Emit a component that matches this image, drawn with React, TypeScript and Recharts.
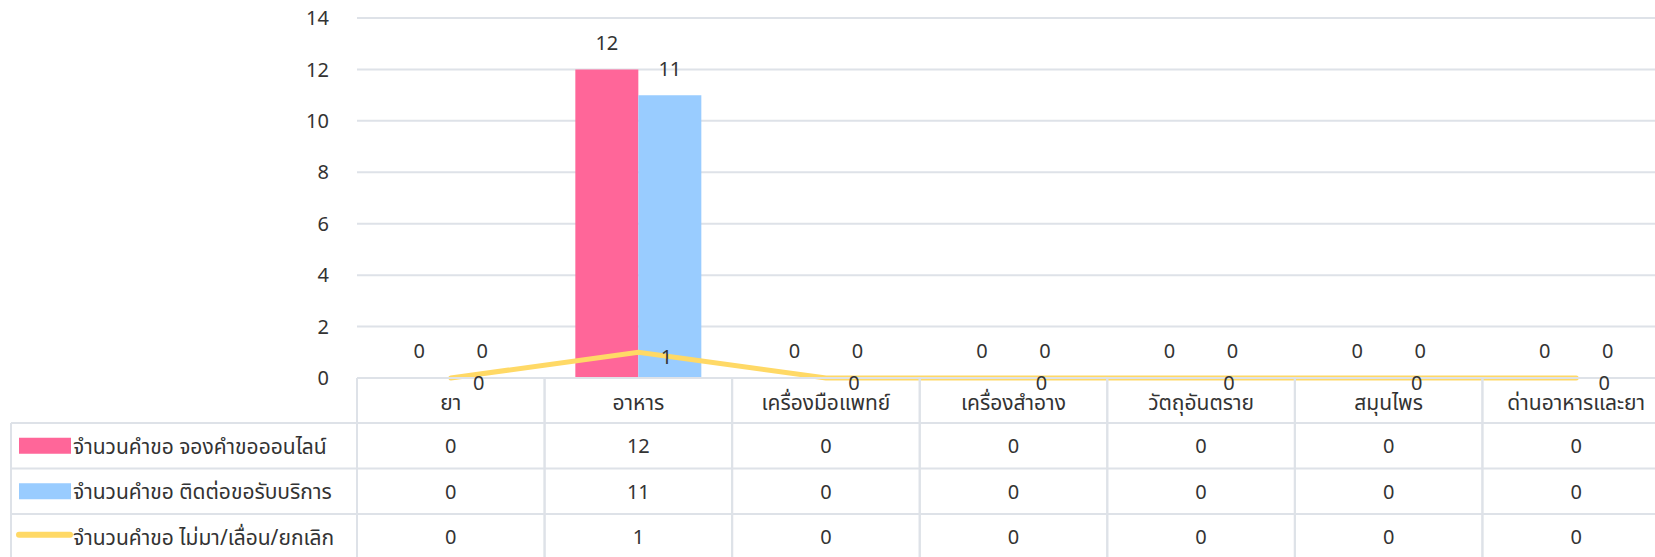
import React from 'react';
import { ComposedChart, Bar, Line, XAxis, YAxis, CartesianGrid, LabelList, Rectangle } from 'recharts';

const categories = ['ยา', 'อาหาร', 'เครื่องมือแพทย์', 'เครื่องสำอาง', 'วัตถุอันตราย', 'สมุนไพร', 'ด่านอาหารและยา'];
const onlineBooking = [0, 12, 0, 0, 0, 0, 0];
const walkIn = [0, 11, 0, 0, 0, 0, 0];
const cancelled = [0, 1, 0, 0, 0, 0, 0];
const seriesNames = [
  'จำนวนคำขอ จองคำขอออนไลน์',
  'จำนวนคำขอ ติดต่อขอรับบริการ',
  'จำนวนคำขอ ไม่มา/เลื่อน/ยกเลิก',
];
const yTicks = [0, 2, 4, 6, 8, 10, 12, 14];

const COLORS = ['#FF6699', '#99CCFF', '#FFD966'];
const GRID = '#DEE2E8';
const TEXT = '#333333';
const FONT = "'Noto Sans', 'Noto Sans Thai', Tahoma, sans-serif";
const FS = 20;
const FS_THAI = 21;

const rows = [onlineBooking, walkIn, cancelled];

const data = categories.map((c, i) => ({
  name: c,
  online: onlineBooking[i],
  walkin: walkIn[i],
  cancel: cancelled[i],
}));

// table layout (relative to the axis line)
const HEADER_H = 45;
const ROW_H = 45.5;
const LEGEND_LEFT = 11;

const TableTick = (props: any) => {
  const { x, y, payload } = props;
  const half = payload.offset || 0;
  const idx = payload.index;
  const left = x - half;
  const right = x + half;
  const lines: any[] = [];
  const bottom = y + HEADER_H + ROW_H * 3 + 5;
  lines.push(<line key="vl" x1={left} x2={left} y1={y} y2={bottom} stroke={GRID} strokeWidth={2} />);
  lines.push(<line key="vr" x1={right} x2={right} y1={y} y2={bottom} stroke={GRID} strokeWidth={2} />);
  for (let r = 0; r < 3; r++) {
    const yy = y + HEADER_H + ROW_H * r;
    lines.push(<line key={'h' + r} x1={left} x2={right} y1={yy} y2={yy} stroke={GRID} strokeWidth={2} />);
  }
  const texts: any[] = [];
  texts.push(
    <text key="hd" x={x} y={y + HEADER_H / 2 + 1} textAnchor="middle" dominantBaseline="central" fill={TEXT} fontSize={FS_THAI} fontFamily={FONT}>
      {payload.value}
    </text>
  );
  rows.forEach((arr, r) => {
    texts.push(
      <text key={'v' + r} x={x} y={y + HEADER_H + ROW_H * r + ROW_H / 2} textAnchor="middle" dominantBaseline="central" fill={TEXT} fontSize={FS} fontFamily={FONT}>
        {arr[idx]}
      </text>
    );
  });
  const legend: any[] = [];
  if (idx === 0) {
    legend.push(<line key="ll" x1={LEGEND_LEFT} x2={LEGEND_LEFT} y1={y + HEADER_H} y2={bottom} stroke={GRID} strokeWidth={2} />);
    for (let r = 0; r < 3; r++) {
      const yy = y + HEADER_H + ROW_H * r;
      legend.push(<line key={'lh' + r} x1={LEGEND_LEFT} x2={left} y1={yy} y2={yy} stroke={GRID} strokeWidth={2} />);
      const cy = yy + ROW_H / 2;
      if (r < 2) {
        legend.push(<rect key={'sw' + r} x={19} y={cy - 8} width={52} height={16} fill={COLORS[r]} />);
      } else {
        legend.push(<line key={'sw' + r} x1={19} x2={70} y1={cy - 2} y2={cy - 2} stroke={COLORS[r]} strokeWidth={6} strokeLinecap="round" />);
      }
      legend.push(
        <text key={'lt' + r} x={73} y={cy} dominantBaseline="central" fill={TEXT} fontSize={FS_THAI} fontFamily={FONT}>
          {seriesNames[r]}
        </text>
      );
    }
  }
  return (
    <g>
      {lines}
      {legend}
      {texts}
    </g>
  );
};

const BarLabel = (props: any) => {
  const { x, y, width, value } = props;
  return (
    <text x={x + width / 2} y={y - 27} textAnchor="middle" dominantBaseline="central" fill={TEXT} fontSize={FS} fontFamily={FONT}>
      {value}
    </text>
  );
};

const LineLabel = (props: any) => {
  const { x, y, value } = props;
  return (
    <text x={x + 28} y={y + 4} textAnchor="middle" dominantBaseline="central" fill={TEXT} fontSize={FS} fontFamily={FONT}>
      {value}
    </text>
  );
};

const BarShape = (props: any) => {
  const v = props.value;
  const val = Array.isArray(v) ? v[1] - v[0] : v;
  if (!val) return <g />;
  return <Rectangle {...props} />;
};

export default function App() {
  return (
    <div style={{ position: 'absolute', left: 0, top: 0, width: 1655, height: 557, overflow: 'hidden', background: '#fff' }}>
      <ComposedChart
        width={1670}
        height={557}
        data={data}
        margin={{ top: 18, right: 0, left: 0, bottom: 0 }}
        barCategoryGap="16.4%"
        barGap={0}
      >
        <CartesianGrid vertical={false} stroke={GRID} strokeWidth={2} />
        <XAxis
          dataKey="name"
          height={179}
          axisLine={{ stroke: GRID, strokeWidth: 2 }}
          tickLine={false}
          tickSize={0}
          tickMargin={0}
          interval={0}
          tick={<TableTick />}
        />
        <YAxis
          width={357}
          domain={[0, 14]}
          ticks={yTicks}
          axisLine={false}
          tickLine={false}
          tickSize={0}
          tickMargin={28}
          tick={{ fill: TEXT, fontSize: FS, fontFamily: FONT }}
        />
        <Bar dataKey="online" name={seriesNames[0]} fill={COLORS[0]} minPointSize={1} shape={<BarShape />} isAnimationActive={false}>
          <LabelList dataKey="online" content={<BarLabel />} />
        </Bar>
        <Bar dataKey="walkin" name={seriesNames[1]} fill={COLORS[1]} minPointSize={1} shape={<BarShape />} isAnimationActive={false}>
          <LabelList dataKey="walkin" content={<BarLabel />} />
        </Bar>
        <Line
          dataKey="cancel"
          name={seriesNames[2]}
          stroke={COLORS[2]}
          strokeWidth={5}
          strokeLinecap="round"
          dot={false}
          activeDot={false}
          isAnimationActive={false}
        >
          <LabelList dataKey="cancel" content={<LineLabel />} />
        </Line>
      </ComposedChart>
    </div>
  );
}
